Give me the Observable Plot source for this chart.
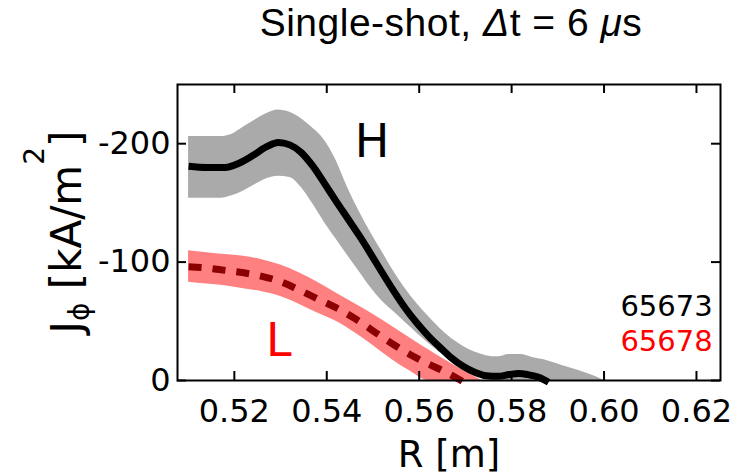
<!DOCTYPE html>
<html><head><meta charset="utf-8">
<script src="https://cdn.jsdelivr.net/npm/d3@7"></script>
<script src="https://cdn.jsdelivr.net/npm/@observablehq/plot@0.6"></script>
<style>body{margin:0;background:#fff;}</style>
</head><body><div id="chart"></div>
<script>
// Tick values
const xTicks = [0.52, 0.54, 0.56, 0.58, 0.60, 0.62];
const yTicks = [0, -100, -200];

// Shot 65673 (H): mean J_phi [kA/m^2]
const hR = [0.5101, 0.514, 0.518, 0.521, 0.524, 0.527, 0.5295, 0.532, 0.5345, 0.537, 0.5395, 0.542, 0.5445, 0.547, 0.5495, 0.552, 0.5545, 0.557, 0.5595, 0.562, 0.5645, 0.567, 0.5695, 0.572, 0.5745, 0.577, 0.5795, 0.5815, 0.5835, 0.586, 0.588];
const hJ = [-181, -180, -180, -183.5, -190, -197.5, -201, -199, -192.5, -181, -166.5, -151.5, -137, -122.5, -107, -91, -75.5, -61, -48.5, -37.5, -28, -19, -12, -7, -4, -3.5, -5, -6, -5, -2.5, 1.5];

// Shot 65673 uncertainty band
const gR = [0.5101, 0.514, 0.517, 0.5195, 0.522, 0.5245, 0.527, 0.5295, 0.532, 0.5345, 0.537, 0.5395, 0.542, 0.5445, 0.547, 0.5495, 0.552, 0.5545, 0.557, 0.5595, 0.562, 0.5645, 0.567, 0.5695, 0.572, 0.5745, 0.577, 0.5795, 0.582, 0.5845, 0.587, 0.5895, 0.592, 0.5945, 0.597, 0.600];
const gUpper = [-206, -206, -206, -208, -214, -220, -225.5, -228.5, -226.5, -221, -213, -203, -186, -163, -143, -125, -108.5, -92, -77.5, -65, -54, -44, -35.5, -29, -24, -21, -20, -22, -22, -19.5, -17.5, -14.5, -11.3, -8.5, -5, 0];
const gLower = [-154, -154, -154, -156, -160, -165.5, -170.5, -172.5, -171.5, -163, -149, -133.5, -119.5, -105.5, -92, -78.5, -67, -58, -49, -40, -31.5, -23.5, -16.5, -10, -5, -1.5, 0, 0, 0, 0, 0, 0, 0, 0, 0, 0];

// Shot 65678 (L): mean J_phi
const lR = [0.5101, 0.514, 0.518, 0.522, 0.526, 0.530, 0.534, 0.538, 0.542, 0.546, 0.550, 0.554, 0.558, 0.562, 0.566, 0.5695];
const lJ = [-96, -95, -93, -91, -88, -83.5, -76.5, -69, -61.5, -52.5, -42, -31.5, -22, -14, -6.5, 1];

// Shot 65678 uncertainty band
const rR = [0.5101, 0.514, 0.518, 0.522, 0.526, 0.530, 0.534, 0.538, 0.542, 0.546, 0.550, 0.554, 0.558, 0.562, 0.566, 0.570, 0.5735];
const rUpper = [-109.5, -108, -106.5, -105, -102, -97.5, -91, -83, -74, -65, -56, -46, -36, -26, -16.5, -7.5, 0];
const rLower = [-83, -81.5, -80, -77.5, -75, -71, -64.5, -57, -50, -40.5, -29.5, -18, -8, 0, 0, 0, 0];

const W = 745, H = 476, mt = 84, mr = 25, mb = 96, ml = 177;
const frameW = W - ml - mr, frameH = H - mt - mb, tickLen = 9;

const hLine = hR.map((x, i) => ({x, y: hJ[i]}));
const lLine = lR.map((x, i) => ({x, y: lJ[i]}));
const gBand = gR.map((x, i) => ({x, y1: gUpper[i], y2: gLower[i]}));
const rBand = rR.map((x, i) => ({x, y1: rUpper[i], y2: rLower[i]}));

const svg = Plot.plot({
  width: W, height: H,
  marginTop: mt, marginRight: mr, marginBottom: mb, marginLeft: ml,
  style: {fontFamily: "DejaVu Sans", background: "#fff", color: "#000", overflow: "visible"},
  x: {domain: [0.5077, 0.6252]},
  y: {domain: [0, -250]},
  marks: [
    Plot.areaY(gBand, {x: "x", y1: "y1", y2: "y2", fill: "#aaaaaa", curve: "monotone-x", clip: true}),
    Plot.areaY(rBand, {x: "x", y1: "y1", y2: "y2", fill: "#ff8080", curve: "monotone-x", clip: true}),
    Plot.line(hLine, {x: "x", y: "y", stroke: "#000", strokeWidth: 7, curve: "monotone-x", strokeLinecap: "butt"}),
    Plot.line(lLine, {x: "x", y: "y", stroke: "#8b0000", strokeWidth: 7, strokeDasharray: "13,11", curve: "monotone-x", strokeLinecap: "butt"}),
    Plot.tickX(xTicks, {x: d => d, insetTop: frameH - tickLen, strokeWidth: 2}),
    Plot.tickX(xTicks, {x: d => d, insetBottom: frameH - tickLen, strokeWidth: 2}),
    Plot.tickY(yTicks, {y: d => d, insetRight: frameW - tickLen, strokeWidth: 2}),
    Plot.tickY(yTicks, {y: d => d, insetLeft: frameW - tickLen, strokeWidth: 2}),
    Plot.frame({strokeWidth: 2}),
    Plot.axisX(xTicks, {anchor: "bottom", tickSize: 0, tickPadding: 19, tickFormat: d => d.toFixed(2), fontSize: 32, label: null}),
    Plot.axisY(yTicks, {anchor: "left", tickSize: 0, tickPadding: 7, tickFormat: d => String(d), fontSize: 32, label: null}),
    Plot.text(["R [m]"], {text: d => d, frameAnchor: "bottom", lineAnchor: "middle", dy: 75, fontSize: 37}),
    Plot.text(["H"], {text: d => d, x: 0.5498, y: -201, fontSize: 46, fill: "#000"}),
    Plot.text(["L"], {text: d => d, x: 0.5296, y: -33.5, fontSize: 46, fill: "#ff0000"}),
    Plot.text(["65673"], {text: d => d, x: 0.6235, y: -62.7, textAnchor: "end", fontSize: 29, fill: "#000"}),
    Plot.text(["65678"], {text: d => d, x: 0.6235, y: -33, textAnchor: "end", fontSize: 29, fill: "#ff0000"})
  ]
});

const s = d3.select(svg);
// Title
const title = s.append("text")
  .attr("x", 451).attr("y", 36).attr("text-anchor", "middle")
  .style("font-family", "'Liberation Sans', Arial, sans-serif").style("font-size", "39px")
  .style("letter-spacing", "0.5px").attr("fill", "#000");
title.append("tspan").text("Single-shot, ");
title.append("tspan").style("font-style", "italic").text("\u0394");
title.append("tspan").text("t = 6 ");
title.append("tspan").style("font-style", "italic").text("\u03bc");
title.append("tspan").text("s");

// Y label
const yl = s.append("text")
  .attr("transform", `translate(81,${mt + frameH / 2}) rotate(-90)`)
  .attr("text-anchor", "middle")
  .style("font-family", "'DejaVu Sans', sans-serif").style("font-size", "42px").attr("fill", "#000");
yl.append("tspan").text("J");
yl.append("tspan").attr("dy", 8).style("font-size", "28px").text("\u03d5");
yl.append("tspan").attr("dy", -8).text(" [kA/m");
yl.append("tspan").attr("dy", -37).style("font-size", "28px").text("2");
yl.append("tspan").attr("dy", 37).text("]");

document.getElementById("chart").append(svg);
</script>
</body></html>
